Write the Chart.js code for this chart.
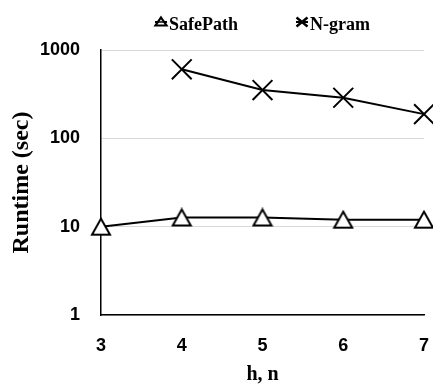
<!DOCTYPE html>
<html><head><meta charset="utf-8">
<script src="https://cdn.jsdelivr.net/npm/chart.js@4/dist/chart.umd.min.js"></script>
<style>html,body{margin:0;padding:0;background:#fff}#wrap{width:433px;height:385px}</style>
</head><body><div id="wrap"><canvas id="c" width="433" height="385"></canvas></div>
<script>
const categories = ['3', '4', '5', '6', '7'];
const safePathValues = [10, 12.7, 12.7, 12, 12];
const nGramValues = [null, 605, 352, 288, 188];
const yTickValues = [1, 10, 100, 1000];
const seriesNames = ['SafePath', 'N-gram'];
const xTitle = 'h, n';
const yTitle = 'Runtime (sec)';

function triangleImage(w, h, lw) {
  const c = document.createElement('canvas');
  c.width = Math.round(w + lw * 2); c.height = Math.round(h + lw * 2);
  const g = c.getContext('2d');
  g.beginPath();
  g.moveTo(c.width / 2, lw);
  g.lineTo(c.width - lw, lw + h);
  g.lineTo(lw, lw + h);
  g.closePath();
  g.fillStyle = '#fff'; g.fill();
  g.lineWidth = lw; g.strokeStyle = '#000'; g.lineJoin = 'miter'; g.stroke();
  return c;
}
const triMarker = triangleImage(18, 16, 2);

const legendPlugin = {
  id: 'customLegend',
  afterDraw(chart) {
    const ctx = chart.ctx, area = chart.chartArea;
    ctx.save();
    ctx.font = 'bold 18px "Liberation Serif"';
    ctx.fillStyle = '#000';
    const iconW = 14, gap = 58;
    const widths = seriesNames.map(n => ctx.measureText(n).width);
    const total = widths.reduce((a, b) => a + b, 0) + iconW * 2 + gap;
    let x = (area.left + area.right) / 2 - total / 2;
    const iy = 22, ty = 30;
    seriesNames.forEach((name, i) => {
      const cx = x + iconW / 2 - 1;
      ctx.strokeStyle = '#000';
      ctx.lineWidth = 2;
      ctx.beginPath(); ctx.moveTo(cx - 6, iy); ctx.lineTo(cx + 6, iy); ctx.stroke();
      if (i === 0) {
        ctx.beginPath();
        ctx.moveTo(cx, iy - 4.5); ctx.lineTo(cx + 5.5, iy + 3.5); ctx.lineTo(cx - 5.5, iy + 3.5); ctx.closePath();
        ctx.fillStyle = '#fff'; ctx.fill(); ctx.lineWidth = 2.2; ctx.stroke();
        ctx.beginPath(); ctx.moveTo(cx - 6, iy); ctx.lineTo(cx + 6, iy); ctx.lineWidth = 1.5; ctx.stroke();
      } else {
        ctx.lineWidth = 2.4;
        ctx.beginPath();
        ctx.moveTo(cx - 5.5, iy - 4.5); ctx.lineTo(cx + 5.5, iy + 4.5);
        ctx.moveTo(cx + 5.5, iy - 4.5); ctx.lineTo(cx - 5.5, iy + 4.5);
        ctx.stroke();
      }
      ctx.fillStyle = '#000';
      ctx.textBaseline = 'alphabetic';
      ctx.textAlign = 'left';
      ctx.fillText(name, x + iconW, ty);
      x += iconW + widths[i] + gap;
    });
    ctx.restore();
  }
};

new Chart(document.getElementById('c'), {
  type: 'line',
  data: {
    labels: categories,
    datasets: [
      {
        label: seriesNames[0], data: safePathValues,
        borderColor: '#000', borderWidth: 2, tension: 0, clip: false,
        pointStyle: triMarker, pointRadius: 10, pointHoverRadius: 10
      },
      {
        label: seriesNames[1], data: nGramValues,
        borderColor: '#000', borderWidth: 2, tension: 0, clip: false,
        pointStyle: 'crossRot', pointRadius: 14, pointHoverRadius: 14,
        pointBorderWidth: 2, pointBorderColor: '#000', pointBackgroundColor: '#000'
      }
    ]
  },
  options: {
    responsive: false,
    animation: false,
    devicePixelRatio: 1,
    layout: { autoPadding: false, padding: { top: 50, right: 9, left: 0, bottom: 0 } },
    plugins: { legend: { display: false }, tooltip: { enabled: false } },
    scales: {
      x: {
        type: 'category', offset: false,
        grid: { display: false, drawTicks: false },
        border: { display: true, color: '#000', width: 1.5 },
        ticks: { color: '#000', padding: 20, font: { family: 'Liberation Sans', weight: 'bold', size: 18 } },
        title: { display: true, text: xTitle, color: '#000', padding: { top: 0, bottom: 0 },
          font: { family: 'Liberation Serif', weight: 'bold', size: 20, lineHeight: 1 } },
        afterFit(scale) { scale.height = 70; scale.paddingLeft = 0; scale.paddingRight = 0; }
      },
      y: {
        type: 'logarithmic', min: 1, max: 1000,
        grid: { color: '#d9d9d9', lineWidth: 1, drawTicks: false },
        border: { display: true, color: '#000', width: 1.5 },
        afterBuildTicks(scale) { scale.ticks = yTickValues.map(v => ({ value: v, major: false })); },
        ticks: { color: '#000', padding: 21, autoSkip: false, callback: v => String(v),
          font: { family: 'Liberation Sans', weight: 'bold', size: 18 } },
        title: { display: true, text: yTitle, color: '#000', padding: { top: 9.5, bottom: 0 },
          font: { family: 'Liberation Serif', weight: 'bold', size: 24, lineHeight: 1 } },
        afterFit(scale) { scale.width = 101; scale.paddingTop = 0; scale.paddingBottom = 0; }
      }
    }
  },
  plugins: [legendPlugin]
});
</script>
</body></html>
